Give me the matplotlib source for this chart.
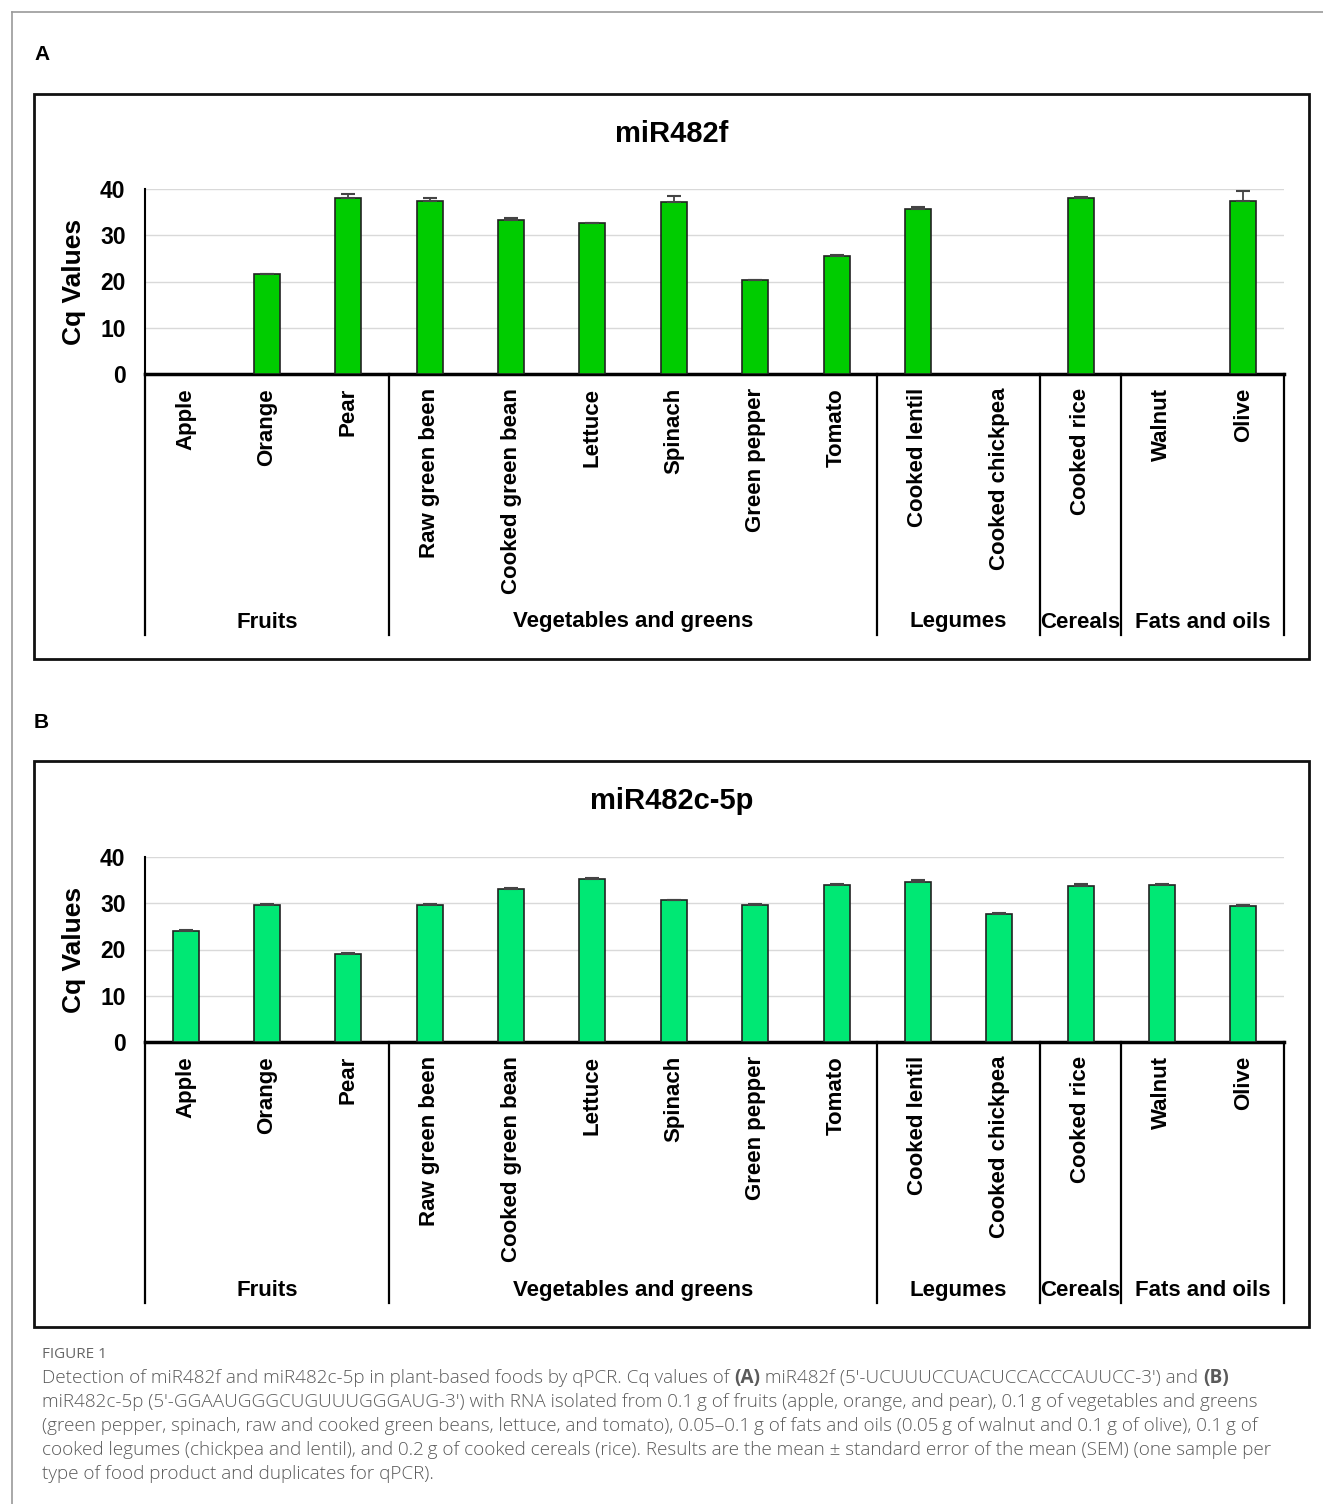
import matplotlib
matplotlib.use("Agg")
import matplotlib.pyplot as plt
from matplotlib.patches import Rectangle
from matplotlib.lines import Line2D
import numpy as np

foods = ["Apple", "Orange", "Pear", "Raw green been", "Cooked green bean", "Lettuce",
         "Spinach", "Green pepper", "Tomato", "Cooked lentil", "Cooked chickpea",
         "Cooked rice", "Walnut", "Olive"]
groups = ["Fruits", "Vegetables and greens", "Legumes", "Cereals", "Fats and oils"]
group_sizes = [3, 6, 2, 1, 2]

# miR482f (0 = not detected)
cq_f = [0, 21.6, 38.1, 37.5, 33.3, 32.6, 37.2, 20.3, 25.6, 35.6, 0, 38.1, 0, 37.5]
sem_f = [0, 0.1, 0.9, 0.5, 0.5, 0.1, 1.2, 0.1, 0.1, 0.5, 0, 0.2, 0, 2.0]

# miR482c-5p
cq_c = [24.0, 29.7, 19.1, 29.7, 33.0, 35.3, 30.6, 29.7, 34.0, 34.6, 27.6, 33.8, 34.0, 29.4]
sem_c = [0.2, 0.2, 0.2, 0.2, 0.2, 0.2, 0.2, 0.2, 0.2, 0.4, 0.2, 0.4, 0.2, 0.2]

W, H = 1323, 1504
FONT = "Liberation Sans"


def fx(px):
    return px / W


def fy(py):
    return 1 - py / H


fig = plt.figure(figsize=(W / 100, H / 100), dpi=100)

# outer frame of the figure page
fig.add_artist(Line2D([fx(12), fx(12)], [fy(12), 0], transform=fig.transFigure, color="#9a9a9a", lw=1.2))
fig.add_artist(Line2D([fx(12), 1], [fy(12), fy(12)], transform=fig.transFigure, color="#9a9a9a", lw=1.2))


def panel(letter, ytop_box, ybot_box, y0, y40, title, vals, errs, color):
    fig.text(fx(34), fy(ytop_box - 39), letter, fontsize=15, fontweight="bold", family=FONT,
             ha="left", va="center")
    fig.add_artist(Rectangle((fx(34), fy(ybot_box)), fx(1309) - fx(34), fy(ytop_box) - fy(ybot_box),
                             transform=fig.transFigure, fill=False, ec="#111111", lw=2))
    fig.text(fx(672), fy(ytop_box + 40), title, fontsize=21, fontweight="bold", family=FONT,
             ha="center", va="center")
    ax = fig.add_axes([fx(145), fy(y0), fx(1284) - fx(145), fy(y40) - fy(y0)])
    x = np.arange(len(foods))
    vals = np.array(vals)
    errs = np.array(errs)
    m = vals > 0
    ax.bar(x[m], vals[m], width=0.32, color=color, edgecolor="#222222", linewidth=1.2, zorder=3)
    ax.errorbar(x[m], vals[m], yerr=[np.zeros(m.sum()), errs[m]], fmt="none", ecolor="#444444",
                elinewidth=1.3, capsize=5, capthick=1.5, zorder=4)
    ax.set_xlim(-0.5, len(foods) - 0.5)
    ax.set_ylim(0, 40)
    ax.set_yticks([0, 10, 20, 30, 40])
    ax.yaxis.grid(True, color="#d9d9d9", lw=1, zorder=0)
    ax.set_axisbelow(True)
    ax.tick_params(axis="y", length=0, pad=14, labelsize=16.5)
    for lab in ax.get_yticklabels():
        lab.set_fontweight("bold")
        lab.set_family(FONT)
    ax.set_xticks([])
    for s in ["top", "right"]:
        ax.spines[s].set_visible(False)
    ax.spines["left"].set_linewidth(1.5)
    ax.spines["bottom"].set_linewidth(2.5)
    ax.set_ylabel("Cq Values", fontsize=19, fontweight="bold", family=FONT, labelpad=10)

    # category labels and group brackets below the axis
    ht = y0 - y40
    tr = ax.get_xaxis_transform()
    for i, name in enumerate(foods):
        ax.text(i, -14 / ht, name, rotation=90, ha="center", va="top", fontsize=16,
                fontweight="bold", family=FONT, transform=tr, clip_on=False)
    edges = np.concatenate([[0], np.cumsum(group_sizes)]) - 0.5
    ylow = -(ybot_box - 24 - y0) / ht
    for e in edges:
        ax.add_line(Line2D([e, e], [0, ylow], transform=tr, color="black", lw=1.6, clip_on=False))
    for g, a, b in zip(groups, edges[:-1], edges[1:]):
        ax.text((a + b) / 2, -(ybot_box - 37 - y0) / ht, g, ha="center", va="center", fontsize=16,
                fontweight="bold", family=FONT, transform=tr, clip_on=False)
    return ax


panel("A", 94, 659, 374, 189, "miR482f", cq_f, sem_f, "#00cc00")
panel("B", 761, 1327, 1042, 857, "miR482c-5p", cq_c, sem_c, "#00e874")

# caption
cap_color = "#5a5a5a"
fig.text(fx(42), fy(1355), "FIGURE 1", fontsize=11, color="#666666", family="Open Sans",
         ha="left", va="center")
caption = [
    [("Detection of miR482f and miR482c-5p in plant-based foods by qPCR. Cq values of ", False),
     ("(A)", True), (" miR482f (5\u2032-UCUUUCCUACUCCACCCAUUCC-3\u2032) and ", False), ("(B)", True)],
    [("miR482c-5p (5\u2032-GGAAUGGGCUGUUUGGGAUG-3\u2032) with RNA isolated from 0.1\u2009g of fruits (apple, orange, and pear), 0.1\u2009g of vegetables and greens", False)],
    [("(green pepper, spinach, raw and cooked green beans, lettuce, and tomato), 0.05\u20130.1\u2009g of fats and oils (0.05\u2009g of walnut and 0.1\u2009g of olive), 0.1\u2009g of", False)],
    [("cooked legumes (chickpea and lentil), and 0.2\u2009g of cooked cereals (rice). Results are the mean \u00b1 standard error of the mean (SEM) (one sample per", False)],
    [("type of food product and duplicates for qPCR).", False)],
]
renderer = fig.canvas.get_renderer()
for k, segs in enumerate(caption):
    xpos = fx(42)
    for s, bold in segs:
        t = fig.text(xpos, fy(1378 + 24 * k), s, fontsize=13.6, color=cap_color,
                     family="Open Sans", fontweight="bold" if bold else "light",
                     ha="left", va="center")
        bb = t.get_window_extent(renderer)
        xpos += bb.width / W

fig.savefig("out.png", dpi=100)
